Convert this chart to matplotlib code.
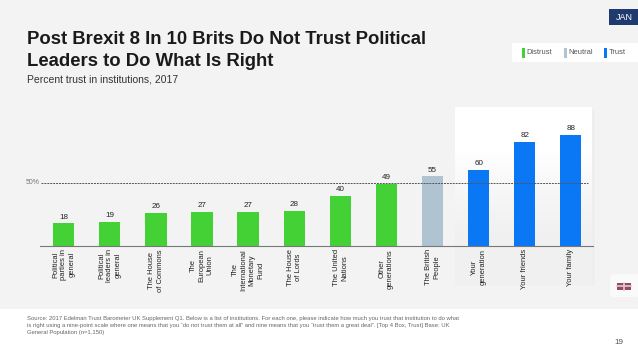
import matplotlib
matplotlib.use('Agg')
from matplotlib import pyplot as plt
from matplotlib.patches import Rectangle, FancyBboxPatch
from matplotlib.colors import LinearSegmentedColormap

W, H = 638, 359

labels = ['Political\nparties in\ngeneral', 'Political\nleaders in\ngeneral', 'The House\nof Commons',
          'The\nEuropean\nUnion', 'The\nInternational\nMonetary\nFund', 'The House\nof Lords',
          'The United\nNations', 'Other\ngenerations', 'The British\nPeople', 'Your\ngeneration',
          'Your friends', 'Your family']
values = [18, 19, 26, 27, 27, 28, 40, 49, 55, 60, 82, 88]
value_labels = ['18', '19', '26', '27', '27', '28', '40', '49', '55', '60', '82', '88']
groups = ['d', 'd', 'd', 'd', 'd', 'd', 'd', 'd', 'n', 't', 't', 't']
colors = {'d': '#43d135', 'n': '#afc4d0', 't': '#0a78f5'}

plt.rcParams['font.family'] = ['Liberation Sans', 'DejaVu Sans']

fig = plt.figure(figsize=(W / 100, H / 100), dpi=100, facecolor='white')

# page layer in pixel coordinates
bg = fig.add_axes([0, 0, 1, 1], zorder=0)
bg.axis('off')
bg.add_patch(Rectangle((0, 0), W, 309, color='#f3f3f3', lw=0))

# highlight panel behind the trust bars, white fading into the page
fade = LinearSegmentedColormap.from_list('fade', ['#ffffff', '#f6f6f6', '#f0f0f0'])
bg.add_patch(Rectangle((592, 109), 3, 176, color='#eeeeee', lw=0, zorder=1.2))
bg.imshow([[0], [1]], extent=(455, 592, 285, 107), cmap=fade, aspect='auto', interpolation='bilinear', zorder=1.5)
bg.set_xlim(0, W)
bg.set_ylim(H, 0)

bg.add_patch(Rectangle((609, 9), 29, 16, color='#1e3a6e', lw=0))
bg.text(624, 17.5, 'JAN', color='white', fontsize=6.5, ha='center', va='center')

bg.add_patch(Rectangle((512, 43), 126, 19, color='white', lw=0))
for x, c, name in [(522, colors['d'], 'Distrust'), (564, colors['n'], 'Neutral'), (604, colors['t'], 'Trust')]:
    bg.add_patch(Rectangle((x, 47.7), 3, 10, color=c, lw=0))
    bg.text(x + 4.5, 52.7, name, color='#555555', fontsize=5.4, va='center')

bg.text(27, 40, 'Post Brexit 8 In 10 Brits Do Not Trust Political', fontsize=13.3, fontweight='bold',
        color='#1a1a1a', va='center')
bg.text(27, 62, 'Leaders to Do What Is Right', fontsize=13.3, fontweight='bold', color='#1a1a1a', va='center')
bg.text(27, 79, 'Percent trust in institutions, 2017', fontsize=7.5, color='#333333', va='center')

source = ('Source: 2017 Edelman Trust Barometer UK Supplement Q1. Below is a list of institutions. For each one, '
          'please indicate how much you trust that institution to do what\n'
          'is right using a nine-point scale where one means that you \u201cdo not trust them at all\u201d and nine '
          'means that you \u201ctrust them a great deal\u201d. [Top 4 Box, Trust] Base: UK\n'
          'General Population (n=1,150)')
bg.text(27, 325.5, source, fontsize=4.26, color='#666666', va='center', linespacing=1.52)
bg.text(619, 342, '19', fontsize=5.8, color='#555555', ha='center', va='center')

bg.add_patch(FancyBboxPatch((610, 274), 30, 23, boxstyle='round,pad=0,rounding_size=4', fc='#fafafa', ec='none'))
bg.add_patch(Rectangle((617, 283), 14, 6.5, color='#8f4a6e', lw=0))
bg.plot([617, 631], [286.2, 286.2], color='#e8c8d0', lw=1.2)
bg.plot([624, 624], [283, 289.5], color='#e8c8d0', lw=1.2)

# bars
ax = fig.add_axes([40 / W, 1 - 246.3 / H, (593 - 40) / W, 126 / H], zorder=1)
ax.patch.set_alpha(0)
ax.set_xlim(-23.7 / 46.1, 11 + (593 - 570.8) / 46.1)
ax.set_ylim(0, 126 / 1.27)
x_pos = list(range(len(values)))
ax.bar(x_pos, values, width=0.46, color=[colors[g] for g in groups], zorder=2)
ax.hlines(50, -0.49, 11.37, color='#555555', lw=0.7, ls=(0, (2, 1)), zorder=3)
for x, v, s in zip(x_pos, values, value_labels):
    ax.text(x, v + 2.2, s, ha='center', va='bottom', fontsize=5.8, color='#222222')
ax.text(-0.53, 50, '50%', ha='right', va='center', fontsize=5, color='#777777')
for s in ['top', 'left', 'right']:
    ax.spines[s].set_visible(False)
ax.spines['bottom'].set_color('#777777')
ax.spines['bottom'].set_linewidth(0.8)
ax.set_yticks([])
ax.set_xticks(x_pos)
ax.set_xticklabels(labels, rotation=90, fontsize=5.4, color='#222222', linespacing=1.25, ha='center', va='top',
                   multialignment='center')
ax.tick_params(axis='x', length=0, pad=2)

fig.savefig('out.png', dpi=100)
